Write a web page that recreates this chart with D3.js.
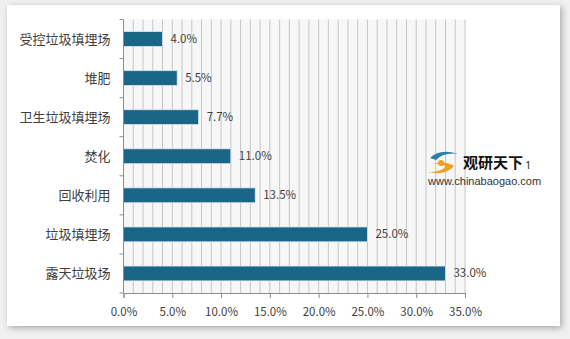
<!DOCTYPE html>
<html><head><meta charset="utf-8">
<script src="https://cdn.jsdelivr.net/npm/d3@7"></script>
<style>
html,body{margin:0;padding:0;background:#fff;}
svg{display:block;}
</style></head>
<body>
<svg id="c" width="570" height="339"></svg>
<script>
const categories = ["受控垃圾填埋场","堆肥","卫生垃圾填埋场","焚化","回收利用","垃圾填埋场","露天垃圾场"];
const values = [4.0, 5.5, 7.7, 11.0, 13.5, 25.0, 33.0];
const tickValues = [0,5,10,15,20,25,30,35];
const gridValues = d3.range(0, 36, 1);

const svg = d3.select("#c");
const defs = svg.append("defs");
const f = defs.append("filter").attr("id","sh").attr("x","-5%").attr("y","-5%").attr("width","110%").attr("height","110%");
f.append("feGaussianBlur").attr("in","SourceAlpha").attr("stdDeviation",3);
f.append("feOffset").attr("dx",2).attr("dy",2).attr("result","b");
f.append("feFlood").attr("flood-color","#000").attr("flood-opacity",0.3);
f.append("feComposite").attr("in2","b").attr("operator","in");
const m = f.append("feMerge"); m.append("feMergeNode"); m.append("feMergeNode").attr("in","SourceGraphic");

svg.append("rect").attr("width",570).attr("height",339).attr("fill","#f0f0f0");
svg.append("rect").attr("x",7).attr("y",5).attr("width",553).attr("height",321).attr("fill","#fff").attr("filter","url(#sh)");

const L = 123.5, R = 465, T = 19.5, B = 293;
const x = d3.scaleLinear().domain([0,35]).range([L,R]);
const y = d3.scaleBand().domain(categories).range([T,B]).paddingInner(0.62).paddingOuter(0.31);
const yb = d3.scaleBand().domain(categories).range([T,B]);

svg.append("rect").attr("x",L).attr("y",T).attr("width",R-L).attr("height",B-T).attr("fill","#f7f7f7");

svg.append("g").selectAll("line").data(gridValues.slice(1)).join("line")
  .attr("x1",d=>x(d)).attr("x2",d=>x(d)).attr("y1",T).attr("y2",B)
  .attr("stroke","#c6c6c6").attr("stroke-width",1);

svg.append("g").selectAll("rect").data(values).join("rect")
  .attr("x",x(0)).attr("y",(d,i)=>y(categories[i]))
  .attr("width",d=>x(d)-x(0)).attr("height",y.bandwidth())
  .attr("fill","#1b6588").attr("stroke","#d8e6ee").attr("stroke-width",0.8);

const font = "'Noto Sans CJK SC','Noto Sans',sans-serif";

svg.append("g").selectAll("text").data(values).join("text")
  .attr("x",d=>x(d)+8).attr("y",(d,i)=>y(categories[i])+y.bandwidth()/2)
  .attr("dy","0.35em").attr("font-family",font).attr("font-size",11.5).attr("fill","#404040")
  .text(d=>d.toFixed(1)+"%");

// x axis
const xa = svg.append("g").attr("transform",`translate(0,${B})`)
  .call(d3.axisBottom(x).tickValues(tickValues).tickSize(5).tickPadding(10).tickFormat(d=>d.toFixed(1)+"%"));
xa.select(".domain").attr("stroke","#8c8c8c");
xa.selectAll(".tick line").attr("stroke","#8c8c8c");
xa.selectAll("text").attr("font-family",font).attr("font-size",11.5).attr("fill","#404040");

// y axis
const yAxisG = svg.append("g").attr("transform",`translate(${L},0)`);
yAxisG.append("line").attr("x1",0).attr("x2",0).attr("y1",T).attr("y2",B).attr("stroke","#8c8c8c");
yAxisG.selectAll("line.t").data(categories.concat([null])).join("line").attr("class","t")
  .attr("x1",-4).attr("x2",0)
  .attr("y1",(d,i)=> i<categories.length ? yb(d) : B).attr("y2",(d,i)=> i<categories.length ? yb(d) : B)
  .attr("stroke","#8c8c8c");
yAxisG.selectAll("text").data(categories).join("text")
  .attr("x",-13).attr("y",d=>y(d)+y.bandwidth()/2).attr("dy","0.35em")
  .attr("text-anchor","end").attr("font-family",font).attr("font-size",13).attr("fill","#404040")
  .text(d=>d);

// watermark
const wm = svg.append("g");
wm.append("path").attr("d","M430,158 q10,-10 28,-4 q-14,-2 -22,6 z").attr("fill","#2a7ea8");
wm.append("path").attr("d","M432,164 q14,-4 22,2 q-8,10 -26,6 q14,0 18,-6 q-6,-3 -14,-2 z").attr("fill","#f0a020");
wm.append("circle").attr("cx",441).attr("cy",163).attr("r",3).attr("fill","#f0a020");
wm.append("text").attr("x",463).attr("y",168).attr("font-family","'Noto Sans CJK SC',sans-serif").attr("font-weight","bold")
  .attr("font-size",15).attr("fill","#111").text("观研天下");
wm.append("text").attr("x",525).attr("y",169).attr("font-family","'Noto Sans',sans-serif")
  .attr("font-size",11).attr("fill","#333").text("1");
wm.append("text").attr("x",428).attr("y",185).attr("font-family","'Liberation Sans',sans-serif")
  .attr("font-size",11).attr("fill","#333").text("www.chinabaogao.com");
</script>
</body></html>
